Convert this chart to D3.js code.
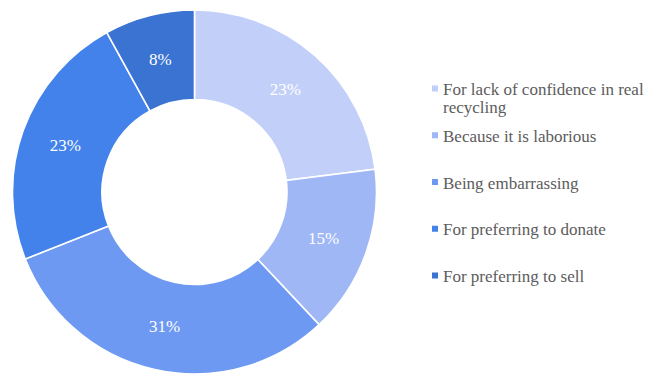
<!DOCTYPE html>
<html>
<head>
<meta charset="utf-8">
<script src="https://cdn.jsdelivr.net/npm/d3@7"></script>
<style>
  html, body { margin: 0; padding: 0; background: #fff; }
  svg { display: block; }
  svg text, svg tspan { font-family: "Liberation Serif", "Times New Roman", serif !important; }
</style>
</head>
<body>
<svg id="chart" width="646" height="376"></svg>
<script>
// Reasons for not recycling, shares in percent
const categories = [
  "For lack of confidence in real recycling",
  "Because it is laborious",
  "Being embarrassing",
  "For preferring to donate",
  "For preferring to sell"
];
const values = [23, 15, 31, 23, 8];
const sliceColors = ["#c2d0f9", "#a0b7f6", "#6e99f3", "#4282ea", "#3a73d2"];

const serif = "Liberation Serif, Times New Roman, serif";

const svg = d3.select("#chart");
const cx = 194.5, cy = 192, outerR = 182, innerR = 92.5;

const pie = d3.pie().sort(null).value(d => d)(values);
const arc = d3.arc().innerRadius(innerR).outerRadius(outerR);
const color = d3.scaleOrdinal().domain(categories).range(sliceColors);

const g = svg.append("g").attr("transform", `translate(${cx},${cy})`);

g.selectAll("path.slice")
  .data(pie)
  .join("path")
  .attr("class", "slice")
  .attr("d", arc)
  .attr("fill", (d, i) => color(categories[i]))
  .attr("stroke", "#ffffff")
  .attr("stroke-width", 1.6);

g.selectAll("text.pct")
  .data(pie)
  .join("text")
  .attr("class", "pct")
  .attr("transform", d => `translate(${arc.centroid(d)})`)
  .attr("text-anchor", "middle")
  .attr("dy", "0.35em")
  .attr("fill", "#ffffff")
  .attr("font-family", serif)
  .style("font-family", serif, "important")
  .attr("font-size", 17)
  .text(d => d.value + "%");

// Legend on the right; the first entry wraps onto two lines
const legendRows = [
  ["For lack of confidence in real", "recycling"],
  ["Because it is laborious"],
  ["Being embarrassing"],
  ["For preferring to donate"],
  ["For preferring to sell"]
];
const legendY = d3.scalePoint().domain(categories).range([95, 282]);

const legend = svg.append("g").attr("class", "key");
const item = legend.selectAll("g.entry")
  .data(categories)
  .join("g")
  .attr("class", "entry")
  .attr("transform", d => `translate(432,${legendY(d)})`);

item.append("rect")
  .attr("x", 0)
  .attr("y", -9.5)
  .attr("width", 6)
  .attr("height", 6)
  .attr("fill", d => color(d));

item.append("text")
  .attr("x", 11)
  .attr("y", 0)
  .attr("fill", "#5c5c5c")
  .attr("font-family", serif)
  .style("font-family", serif, "important")
  .attr("font-size", 17)
  .selectAll("tspan")
  .data((d, i) => legendRows[i])
  .join("tspan")
  .attr("x", 11)
  .attr("dy", (t, j) => j === 0 ? 0 : 17.5)
  .text(t => t);
</script>
</body>
</html>
